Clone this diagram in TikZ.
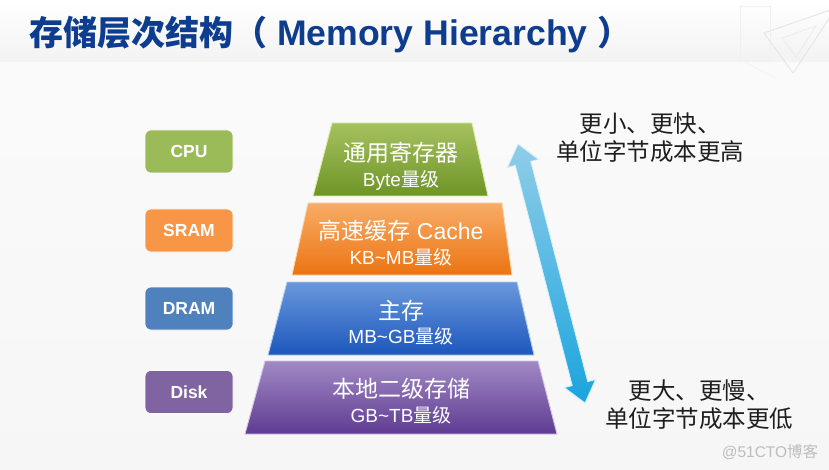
\documentclass[tikz,border=0pt]{standalone}
\usepackage{fontspec}
\setmainfont{Liberation Sans}
\newfontfamily\cjk{Noto Sans CJK SC}
\usetikzlibrary{calc}
\definecolor{titleC}{HTML}{0E3D8F}
\definecolor{cpuC}{HTML}{9BBB59}
\definecolor{sramC}{HTML}{F79646}
\definecolor{dramC}{HTML}{4F81BD}
\definecolor{diskC}{HTML}{8064A2}
\definecolor{gTop}{HTML}{A6C160}\definecolor{gBot}{HTML}{6E9526}\definecolor{gEdge}{HTML}{DCEDA6}
\definecolor{oTop}{HTML}{F8AC66}\definecolor{oBot}{HTML}{EC7412}\definecolor{oEdge}{HTML}{FCD6AE}
\definecolor{bTop}{HTML}{6A98DC}\definecolor{bBot}{HTML}{1C57BC}\definecolor{bEdge}{HTML}{AFCBF0}
\definecolor{pTop}{HTML}{A189C4}\definecolor{pBot}{HTML}{5F3B92}\definecolor{pEdge}{HTML}{D2C4E6}
\definecolor{arTop}{HTML}{90CDE8}\definecolor{arBot}{HTML}{1AA4DE}\definecolor{arEdge}{HTML}{D6EFF9}
\definecolor{txtC}{HTML}{1E1E1E}
\definecolor{wmC}{HTML}{BDBDBD}
\tikzset{
  lbox/.style={rounded corners=6pt, minimum width=88pt, minimum height=43pt, inner sep=0pt,
     text=white, font=\fontsize{17.5}{20}\selectfont\bfseries, draw=white, line width=0.6pt},
  bigtxt/.style={inner sep=0pt, text=white, font=\fontsize{23}{27}\selectfont},
  smalltxt/.style={inner sep=0pt, text=white, font=\fontsize{19}{22}\selectfont},
  sidetxt/.style={inner sep=0pt, text=txtC, font=\fontsize{23.5}{28}\selectfont\cjk},
  tier/.style={line width=0.9pt, line join=round}
}
\begin{document}
\begin{tikzpicture}[x=1pt,y=-1pt]
\useasboundingbox (0,0) rectangle (829,470);
% background
\shade[top color=white!97!gray, bottom color=white!93!gray] (0,0) rectangle (829,470);
\shade[top color=white, bottom color=white!90!gray] (0,0) rectangle (829,62);
% faint set square decoration
\begin{scope}
\clip (0,0) rectangle (829,80);
\draw[gray!22, line width=0.8pt] (764,33) -- (836,8) -- (793,73) -- cycle;
\draw[gray!18, line width=0.6pt] (782,38) -- (816,26) -- (796,57) -- cycle;
\draw[gray!12, line width=0.5pt] (740,6) rectangle (770,60);
\draw[gray!12, line width=0.5pt] (745,62) -- (775,78);
\end{scope}
% title
\node[anchor=base west, inner sep=0pt, text=titleC] (title) at (29,46)
  {\bfseries{\fontsize{34}{40}\selectfont\cjk 存储层次结构（}{\fontsize{35.6}{40}\selectfont\ Memory Hierarchy }{\fontsize{34}{40}\selectfont\cjk ）}};

% pyramid tiers
\draw[tier, top color=gTop, bottom color=gBot, draw=gEdge] (332,123) -- (472,123) -- (488,196) -- (313,196) -- cycle;
\draw[tier, top color=oTop, bottom color=oBot, draw=oEdge] (308,203) -- (502,203) -- (512,275) -- (292,275) -- cycle;
\draw[tier, top color=bTop, bottom color=bBot, draw=bEdge] (287,282) -- (517,282) -- (534,355) -- (268,355) -- cycle;
\draw[tier, top color=pTop, bottom color=pBot, draw=pEdge] (265,361) -- (538,361) -- (557,434) -- (245,434) -- cycle;

\node[bigtxt] (reg) at (401,153) {\cjk 通用寄存器};
\node[smalltxt] (regsz) at (401,180) {Byte{\cjk 量级}};
\node[bigtxt] (cache) at (401,231) {{\cjk 高速缓存} Cache};
\node[smalltxt] (cachesz) at (401,257) {KB\textasciitilde MB{\cjk 量级}};
\node[bigtxt] (mem) at (401,311) {\cjk 主存};
\node[smalltxt] (memsz) at (401,336) {MB\textasciitilde GB{\cjk 量级}};
\node[bigtxt] (disk) at (401,389) {\cjk 本地二级存储};
\node[smalltxt] (disksz) at (401,415) {GB\textasciitilde TB{\cjk 量级}};

% left labels
\node[lbox, fill=cpuC] (cpu) at (189,151.5) {CPU};
\node[lbox, fill=sramC] (sram) at (189,230.5) {SRAM};
\node[lbox, fill=dramC] (dram) at (189,308.5) {DRAM};
\node[lbox, fill=diskC] (dsk) at (189,392) {Disk};

% double arrow
\coordinate (aT) at (518,144);
\coordinate (aB) at (585,403);
\draw[top color=arTop, bottom color=arBot, draw=arEdge, line width=0.8pt, line join=miter]
  (aT)
  -- ($(aT)!20pt!(aB)!16pt!90:(aB)$)
  -- ($(aT)!20pt!(aB)!8pt!90:(aB)$)
  -- ($(aB)!20pt!(aT)!8pt!-90:(aT)$)
  -- ($(aB)!20pt!(aT)!16pt!-90:(aT)$)
  -- (aB)
  -- ($(aB)!20pt!(aT)!16pt!90:(aT)$)
  -- ($(aB)!20pt!(aT)!8pt!90:(aT)$)
  -- ($(aT)!20pt!(aB)!8pt!-90:(aB)$)
  -- ($(aT)!20pt!(aB)!16pt!-90:(aB)$)
  -- cycle;

% side texts
\node[sidetxt] (up1) at (650,123.5) {更小、更快、};
\node[sidetxt] (up2) at (650,152) {单位字节成本更高};
\node[sidetxt] (dn1) at (699,391) {更大、更慢、};
\node[sidetxt] (dn2) at (699,419) {单位字节成本更低};

% watermark
\node[inner sep=0pt, text=wmC, font=\fontsize{15.5}{18}\selectfont] (wm) at (770,452) {@51CTO{\cjk 博客}};
\end{tikzpicture}
\end{document}
